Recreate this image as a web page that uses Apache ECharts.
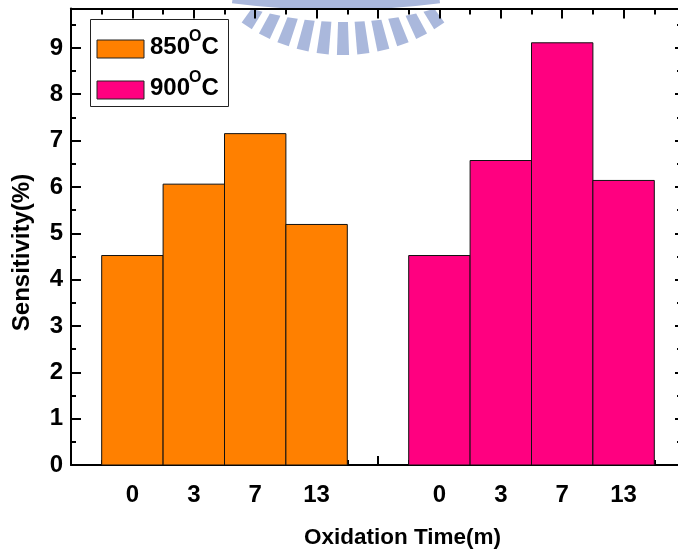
<!DOCTYPE html>
<html>
<head>
<meta charset="utf-8">
<script src="https://cdn.jsdelivr.net/npm/echarts@6/dist/echarts.min.js"></script>
<style>
  html, body { margin: 0; padding: 0; background: #fff; }
  #chart { width: 678px; height: 555px; }
</style>
</head>
<body>
<div id="chart"></div>
<script>
// Oxidation times shown under each group of bars
const timeLabels = ['0', '3', '7', '13'];
// Oxidation temperatures (°C), one group of bars each
const tempLabels = ['850', '900'];
// Sensitivity (%) per oxidation time
const sens850 = [4.52, 6.06, 7.15, 5.19];
const sens900 = [4.52, 6.57, 9.11, 6.14];

const FONT = '"Liberation Sans", Arial, Helvetica, sans-serif';
const BAR_COLORS = ['#FF8000', '#FF0080'];
const GROUP_START = [1, 6];          // x slot of the first bar in each group
const Y_MAX = 9.85;

// tick value -> oxidation time text
const tickText = {};
GROUP_START.forEach(start => timeLabels.forEach((t, i) => { tickText[start + i] = t; }));

const mctx = document.createElement('canvas').getContext('2d');
function textWidth(str, size) {
  mctx.font = 'bold ' + size + 'px ' + FONT;
  return mctx.measureText(str).width;
}

function barRenderer(color) {
  return function (params, api) {
    const x = api.value(0);
    const y = api.value(1);
    const p0 = api.coord([x - 0.5, 0]);
    const p1 = api.coord([x + 0.5, y]);
    return {
      type: 'rect',
      shape: { x: p0[0], y: p1[1], width: p1[0] - p0[0], height: p0[1] - p1[1] },
      style: { fill: color, stroke: '#111', lineWidth: 1 }
    };
  };
}

const axisLineStyle = { color: '#000', width: 2 };
const tickLine = { color: '#000', width: 2 };

function xAxisDef(position, showLabels, majorLen, minorLen) {
  return {
    type: 'value', position: position, min: 0, max: 10, interval: 1,
    axisLine: { show: true, onZero: false, lineStyle: axisLineStyle },
    axisTick: { show: true, inside: true, length: majorLen, lineStyle: tickLine },
    minorTick: { show: true, splitNumber: 2, length: minorLen, lineStyle: tickLine },
    splitLine: { show: false }, minorSplitLine: { show: false },
    axisLabel: showLabels ? {
      show: true, margin: 18, color: '#000', fontSize: 24, fontWeight: 'bold', fontFamily: FONT,
      formatter: v => (tickText[v] !== undefined ? tickText[v] : '')
    } : { show: false }
  };
}

function yAxisDef(position, step, tickLen, showLine, showLabels) {
  return {
    type: 'value', position: position, min: 0, max: Y_MAX, interval: step,
    axisLine: { show: showLine, onZero: false, lineStyle: axisLineStyle },
    axisTick: { show: true, inside: true, length: tickLen, lineStyle: tickLine },
    splitLine: { show: false },
    axisLabel: showLabels ? {
      show: true, margin: 8, color: '#000', fontSize: 24, fontWeight: 'bold', fontFamily: FONT,
      formatter: v => (Number.isInteger(v) ? String(v) : '')
    } : { show: false }
  };
}

// faint university seal peeking in at the top edge
const sealColor = '#AAB8DC';
const seal = [];
const OUT_C = [343, -119.5], OUT_R = 174.5;   // outer ends of the rays
const IN_C = [343, -300], IN_R = 322;         // inner ends of the rays
function rayPoint(angle, circleC, circleR) {
  // point where the ray from OUT_C at this angle meets the given circle
  const dx = Math.cos(angle), dy = Math.sin(angle);
  const ox = OUT_C[0] - circleC[0], oy = OUT_C[1] - circleC[1];
  const b = ox * dx + oy * dy;
  const c = ox * ox + oy * oy - circleR * circleR;
  const t = -b + Math.sqrt(b * b - c);
  return [OUT_C[0] + t * dx, OUT_C[1] + t * dy];
}
for (let k = -5; k <= 5; k++) {
  const a = (90 + k * 6.7) * Math.PI / 180;
  const hw = 2.0 * Math.PI / 180;
  seal.push({
    type: 'polygon', silent: true, z: -10,
    shape: { points: [
      rayPoint(a - hw, IN_C, IN_R), rayPoint(a - hw, OUT_C, OUT_R),
      rayPoint(a + hw, OUT_C, OUT_R), rayPoint(a + hw, IN_C, IN_R)
    ] },
    style: { fill: sealColor }
  });
}
seal.push({
  type: 'sector', silent: true, z: -10,
  shape: { cx: 336, cy: -800, r0: 798, r: 810, startAngle: Math.PI * 0.459, endAngle: Math.PI * 0.541 },
  style: { fill: sealColor }
});

// legend box with superscript "O" in the temperature unit
const legendEls = [{
  type: 'rect', z: 10,
  shape: { x: 90.5, y: 19.5, width: 138, height: 87 },
  style: { fill: '#fff', stroke: '#222', lineWidth: 1 }
}];
tempLabels.forEach((t, i) => {
  const rowY = 49 + i * 41;
  const tx = 150;
  const wNum = textWidth(t, 24);
  const wSup = textWidth('O', 16);
  legendEls.push(
    { type: 'rect', z: 11, shape: { x: 97, y: rowY - 9, width: 47, height: 18 },
      style: { fill: BAR_COLORS[i], stroke: '#222', lineWidth: 1 } },
    { type: 'text', z: 11, style: { text: t, x: tx, y: rowY - 1.5, font: 'bold 24px ' + FONT, fill: '#000',
      textAlign: 'left', textVerticalAlign: 'middle', align: 'left', verticalAlign: 'middle' } },
    { type: 'text', z: 11, style: { text: 'O', x: tx + wNum - 1, y: rowY - 12, font: 'bold 16px ' + FONT, fill: '#000',
      textAlign: 'left', textVerticalAlign: 'middle', align: 'left', verticalAlign: 'middle' } },
    { type: 'text', z: 11, style: { text: 'C', x: tx + wNum + wSup - 1, y: rowY - 1.5, font: 'bold 24px ' + FONT, fill: '#000',
      textAlign: 'left', textVerticalAlign: 'middle', align: 'left', verticalAlign: 'middle' } }
  );
});

const titles = [
  { type: 'text', style: { text: 'Oxidation Time(m)', x: 402.5, y: 537.5, font: 'bold 22.5px ' + FONT, fill: '#000',
    textAlign: 'center', textVerticalAlign: 'middle', align: 'center', verticalAlign: 'middle' } },
  { type: 'text', x: 22, y: 252.5, rotation: Math.PI / 2,
    style: { text: 'Sensitivity(%)', x: 0, y: 0, font: 'bold 24px ' + FONT, fill: '#000',
      textAlign: 'center', textVerticalAlign: 'middle', align: 'center', verticalAlign: 'middle' } }
];

const chart = echarts.init(document.getElementById('chart'), null, { renderer: 'canvas' });
chart.setOption({
  animation: false,
  backgroundColor: '#fff',
  grid: { left: 71, top: 8.5, right: -7, bottom: 90, outerBoundsMode: 'none', containLabel: false },
  xAxis: [
    xAxisDef('bottom', true, 9, 5),
    xAxisDef('top', false, 10, 6)
  ],
  yAxis: [
    yAxisDef('left', 1, 10, true, true),
    yAxisDef('left', 0.5, 5, false, false),
    yAxisDef('right', 1, 10, true, false),
    yAxisDef('right', 0.5, 8, false, false)
  ],
  graphic: { elements: seal.concat(legendEls, titles) },
  series: [sens850, sens900].map((vals, g) => ({
    type: 'custom',
    name: tempLabels[g] + '°C',
    xAxisIndex: 0, yAxisIndex: 0,
    renderItem: barRenderer(BAR_COLORS[g]),
    data: vals.map((v, i) => [GROUP_START[g] + i, v])
  }))
});
</script>
</body>
</html>
